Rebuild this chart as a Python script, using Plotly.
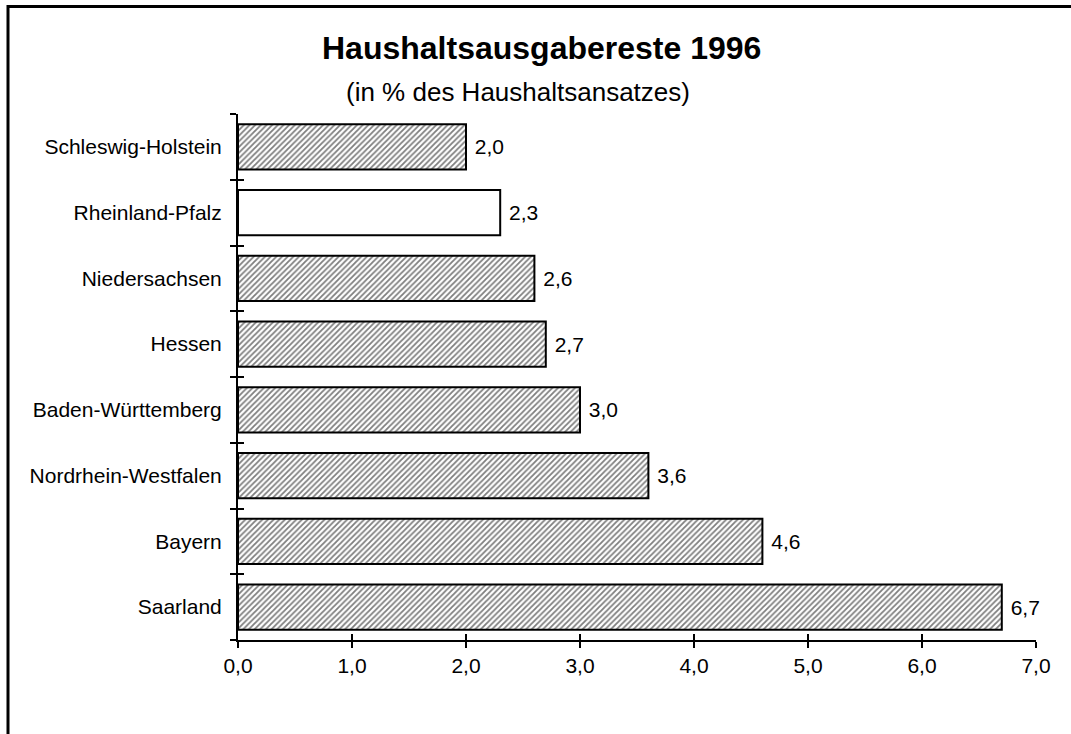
import plotly.graph_objects as go

# Data (bottom to top)
categories = ["Saarland", "Bayern", "Nordrhein-Westfalen", "Baden-Württemberg",
              "Hessen", "Niedersachsen", "Rheinland-Pfalz", "Schleswig-Holstein"]
values = [6.7, 4.6, 3.6, 3.0, 2.7, 2.6, 2.3, 2.0]
hatched = [True, True, True, True, True, True, False, True]
x_ticks = [0, 1, 2, 3, 4, 5, 6, 7]

title_text = "Haushaltsausgabereste 1996"
subtitle_text = "(in % des Haushaltsansatzes)"

FONT = "Liberation Sans, Arial, sans-serif"

fig = go.Figure()
fig.add_trace(go.Bar(
    x=values, y=categories, orientation="h",
    marker=dict(
        color="white",
        line=dict(color="black", width=2),
        pattern=dict(shape=["/" if h else "" for h in hatched],
                     fgcolor="black", bgcolor="white", size=4, solidity=0.45),
    ),
    texttemplate="\u00a0%{x:.1f}", textposition="outside",
    textfont=dict(family=FONT, size=21, color="black"),
    cliponaxis=False, hoverinfo="skip",
))
# invisible trace to carry the crossing tick marks
fig.add_trace(go.Scatter(
    x=values, y=categories, xaxis="x2", yaxis="y2",
    mode="markers", marker=dict(opacity=0), hoverinfo="skip", showlegend=False,
))

axis_common = dict(showgrid=False, zeroline=False, linecolor="black",
                   tickcolor="black", tickwidth=2)

fig.update_layout(
    width=1071, height=734,
    margin=dict(l=238, r=35, t=114, b=94),
    paper_bgcolor="white", plot_bgcolor="white",
    separators=",.",
    showlegend=False,
    bargap=0.315,
    font=dict(family=FONT, size=21, color="black"),
    xaxis=dict(range=[0, 7], tickvals=x_ticks, tickformat=".1f",
               showline=True, linewidth=2, ticks="outside", ticklen=6,
               tickfont=dict(size=21), **axis_common),
    yaxis=dict(type="category", categoryorder="array", categoryarray=categories,
               range=[-0.5, 7.5], tickson="boundaries",
               showline=True, linewidth=2, ticks="outside", ticklen=6,
               ticklabelstandoff=10, tickfont=dict(size=21), **axis_common),
    xaxis2=dict(range=[0, 7], tickvals=x_ticks, overlaying="x", anchor="y2",
                showticklabels=False, ticks="inside", ticklen=6,
                showline=False, **axis_common),
    yaxis2=dict(type="category", categoryorder="array", categoryarray=categories,
                range=[-0.5, 7.5], tickson="boundaries", overlaying="y", anchor="x2",
                showticklabels=False, ticks="inside", ticklen=6,
                showline=False, **axis_common),
    shapes=[dict(type="rect", xref="paper", yref="paper",
                 x0=(8 - 238) / 798, x1=1.1, y0=-0.3, y1=(640 - 6.5) / 526,
                 line=dict(color="black", width=3), fillcolor="rgba(0,0,0,0)",
                 layer="below")],
    annotations=[
        dict(text="<b>" + title_text + "</b>", xref="paper", yref="paper",
             x=(541.5 - 238) / 798, y=(640 - 48) / 526, xanchor="center", yanchor="middle",
             showarrow=False, font=dict(family=FONT, size=32, color="black")),
        dict(text=subtitle_text, xref="paper", yref="paper",
             x=(517.5 - 238) / 798, y=(640 - 92) / 526, xanchor="center", yanchor="middle",
             showarrow=False, font=dict(family=FONT, size=26, color="black")),
    ],
)

fig.write_html("out.html", config={"displayModeBar": False},
               post_script="document.body.style.margin='0';document.body.style.overflow='hidden';")
